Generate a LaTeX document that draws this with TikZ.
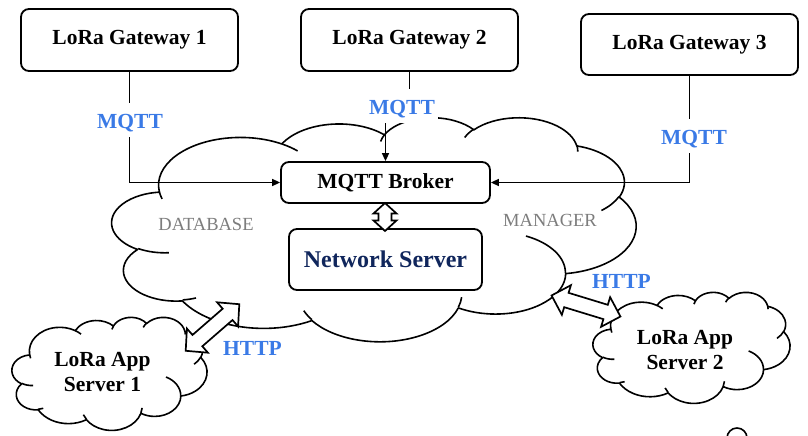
\documentclass[tikz,border=0pt]{standalone}
\usepackage{fontspec}
\setmainfont{Liberation Serif}
\usetikzlibrary{arrows.meta}
\definecolor{lblue}{RGB}{58,122,230}
\definecolor{navyc}{RGB}{16,38,92}
\definecolor{lgray}{RGB}{125,125,125}

% elliptical arc given by visual start angle and sweep (DrawingML style)
\newcommand\mscalc[4]{%
  \pgfmathparse{atan2((#1)*sin(#3),(#2)*cos(#3))}\global\let\msT\pgfmathresult
  \pgfmathparse{atan2((#1)*sin(#3+#4),(#2)*cos(#3+#4))}\global\let\msU\pgfmathresult
  \pgfmathparse{\msU<\msT ? \msU+360 : \msU}\global\let\msU\pgfmathresult
}
\newcommand\msarc[4]{\pgfextra{\mscalc{#1}{#2}{#3}{#4}} arc[start angle=\msT, end angle=\msU, x radius=#1, y radius=#2]}

\newcommand\mscloudouter{%
 (39.00,143.70)
 \msarc{67.53}{91.90}{-190.48748}{123.78053}
 \msarc{53.33}{72.67}{-144.10238}{89.94523}
 \msarc{43.65}{59.45}{-145.80792}{99.72302}
 \msarc{48.57}{65.95}{-130.98607}{117.24173}
 \msarc{53.33}{72.73}{-78.70888}{109.02692}
 \msarc{67.75}{92.20}{-46.26725}{130.26900}
 \msarc{57.85}{78.67}{0.62502}{114.03333}
 \msarc{67.52}{92.15}{22.45160}{115.17255}
 \msarc{77.20}{105.43}{66.24263}{75.71102}
 \msarc{43.60}{59.18}{-274.94208}{146.73557}
 \msarc{43.45}{59.45}{-246.82850}{152.51885}
 -- cycle}
\newcommand\mscloudinner{%
 (46.93,261.77) \msarc{43.45}{59.45}{86.742}{26.4295}
 (69.28,348.99) \msarc{43.60}{59.18}{73.61047}{11.44747}
 (164.78,390.90) \msarc{67.52}{92.15}{137.62415}{14.0811}
 (288.27,347.51) \msarc{67.52}{92.15}{6.45327}{15.99835}
 (341.29,229.54) \msarc{57.85}{78.67}{-70.29235}{70.91737}
 (417.98,153.54) \msarc{53.33}{72.73}{30.31803}{27.7515}
 (383.24,54.26) \msarc{48.57}{65.95}{-13.74433}{14.8589}
 (290.78,39.52) \msarc{48.57}{65.95}{-149.18145}{18.19537}
 (221.41,47.20) \msarc{43.65}{59.45}{-163.49427}{17.68635}
 (140.00,51.92) \msarc{67.53}{91.90}{-66.70695}{12.31935}
 (41.27,157.89) \msarc{67.53}{91.90}{157.65435}{11.85817}
}
% hollow double block arrow: name, cx, cy, angle, length, shaft half-width, head half-width, head length
\newcommand\blockarrow[8]{%
  \begin{scope}[shift={(#2,#3)}, rotate=#4]
    \coordinate (#1) at (0,0);
    \draw[blockline] (-#5/2,0) -- (-#5/2+#8,#7) -- (-#5/2+#8,#6) -- (#5/2-#8,#6)
      -- (#5/2-#8,#7) -- (#5/2,0) -- (#5/2-#8,-#7) -- (#5/2-#8,-#6)
      -- (-#5/2+#8,-#6) -- (-#5/2+#8,-#7) -- cycle;
  \end{scope}}

\begin{document}
\begin{tikzpicture}[x=1pt,y=-1pt,
  cloudline/.style={line width=1.6pt, line join=round},
  box/.style={draw, line width=1.8pt, rounded corners=8pt, fill=white, inner sep=0pt,
    font=\bfseries\fontsize{21.5}{25}\selectfont},
  conn/.style={line width=1.6pt, -{Triangle[length=8pt,width=7pt]}},
  proto/.style={text=lblue, fill=white, inner xsep=3pt, inner ysep=7.5pt,
    text height=18pt, text depth=1pt, font=\bfseries\fontsize{21.5}{25}\selectfont},
  protoplain/.style={text=lblue, inner sep=0pt, font=\bfseries\fontsize{21.5}{25}\selectfont},
  graylabel/.style={text=lgray, inner sep=0pt, font=\fontsize{18.5}{22}\selectfont},
  apptext/.style={align=center, inner sep=0pt, font=\bfseries\fontsize{21.5}{25}\selectfont},
  blockline/.style={draw, fill=white, line width=1.7pt, line join=miter}
]
\useasboundingbox (0,0) rectangle (808,436);
\clip (0,0) rectangle (808,436);

% big cloud
\begin{scope}[shift={(112,117)}, xscale=524/432, yscale=224/432]
  \draw[cloudline, fill=white] \mscloudouter;
  \draw[cloudline] \mscloudinner;
\end{scope}
\node[graylabel, anchor=base] (db) at (206,230) {DATABASE};
\node[graylabel, anchor=base] (mgr) at (550,226) {MANAGER};

% boxes
\node[box, minimum width=217pt, minimum height=62pt] (gw1) at (129.5,40) {LoRa Gateway 1};
\node[box, minimum width=217pt, minimum height=62pt] (gw2) at (409.5,40) {LoRa Gateway 2};
\node[box, minimum width=217pt, minimum height=61pt] (gw3) at (689.5,44.5) {LoRa Gateway 3};
\node[box, minimum width=209pt, minimum height=41pt] (broker) at (385.5,182.5) {MQTT Broker};
\node[box, minimum width=193pt, minimum height=61pt, text=navyc,
  font=\bfseries\fontsize{24}{28}\selectfont] (ns) at (385.5,259.5) {Network Server};

% connectors
\coordinate (j2) at (400,106);
\draw[conn] (gw1.south) |- (broker.west);
\draw[conn] (gw2.south) -- (gw2.south |- j2) -- (broker.north |- j2) -- (broker.north);
\draw[conn] (gw3.south) |- (broker.east);
\node[proto, anchor=base] (m1) at (130,128) {MQTT};
\node[proto, anchor=base] (m2) at (402,114) {MQTT};
\node[proto, anchor=base] (m3) at (694,144) {MQTT};

% broker <-> network server
\blockarrow{bn}{385}{217}{90}{28}{6.5}{11.5}{10.5}

% small clouds
\begin{scope}[shift={(12,317)}, xscale=195/432, yscale=113/432]
  \draw[cloudline, fill=white] \mscloudouter;
  \draw[cloudline] \mscloudinner;
\end{scope}
\begin{scope}[shift={(593,292)}, xscale=197/432, yscale=111/432]
  \draw[cloudline, fill=white] \mscloudouter;
  \draw[cloudline] \mscloudinner;
\end{scope}
\node[apptext] (app1) at (102.5,372.5) {LoRa App\\Server 1};
\node[apptext] (app2) at (685,350) {LoRa App\\Server 2};

% HTTP arrows
\blockarrow{h1}{212.5}{327.5}{41}{71}{7.5}{16}{15.5}
\blockarrow{h2}{586}{306}{-17}{72}{7.5}{15.5}{15.5}
\node[protoplain, anchor=base] (t1) at (252.5,355) {HTTP};
\node[protoplain, anchor=base] (t2) at (621.5,288) {HTTP};

% small circle at bottom edge
\draw[cloudline] (737,438) circle[radius=10];
\end{tikzpicture}
\end{document}
